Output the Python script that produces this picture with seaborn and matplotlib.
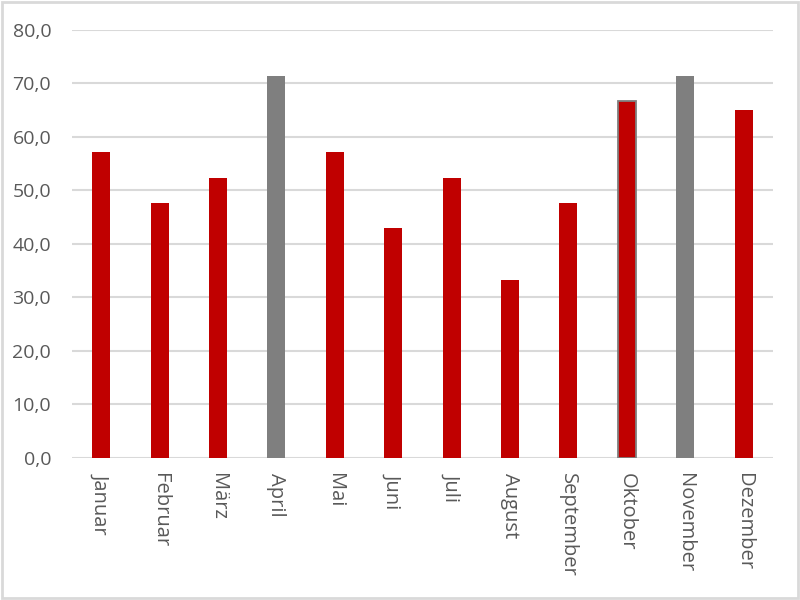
import pandas as pd
import seaborn as sns
import matplotlib.pyplot as plt
from matplotlib.ticker import FuncFormatter, MultipleLocator
from matplotlib.patches import Rectangle

monate = ["Januar", "Februar", "März", "April", "Mai", "Juni", "Juli",
          "August", "September", "Oktober", "November", "Dezember"]
werte = [57.1, 47.6, 52.4, 71.4, 57.1, 42.9, 52.4, 33.3, 47.6, 66.7, 71.4, 65.0]
grau_monate = ["April", "November"]
umrandet = ["Oktober"]

rot = "#c00000"
grau = "#7f7f7f"
text_farbe = "#595959"
linien = "#d9d9d9"

df = pd.DataFrame({"Monat": monate, "Wert": werte})
farben = {m: (grau if m in grau_monate else rot) for m in monate}

sns.set_style("white")
plt.rcParams['font.family'] = ['Open Sans', 'DejaVu Sans']

fig = plt.figure(figsize=(8, 6), dpi=100)
ax = fig.add_axes([0.09, 0.237, 0.876, 0.713])

sns.barplot(data=df, x="Monat", y="Wert", hue="Monat", palette=farben,
            width=0.31, legend=False, ax=ax, saturation=1)

for patch, monat in zip(ax.patches, monate):
    if monat in umrandet:
        patch.set_edgecolor(grau)
        patch.set_linewidth(1.3)
    else:
        patch.set_linewidth(0)

ax.set_ylim(0, 80)
ax.set_xlim(-0.5, len(monate) - 0.5)
ax.yaxis.set_major_locator(MultipleLocator(10))
ax.yaxis.set_major_formatter(FuncFormatter(lambda v, p: f"{v:.1f}".replace(".", ",")))
ax.grid(axis="y", color=linien, linewidth=1.5)
ax.set_axisbelow(True)
for s in ax.spines.values():
    s.set_visible(False)
ax.set_xlabel("")
ax.set_ylabel("")
ax.tick_params(axis="y", length=0, labelsize=14, labelcolor=text_farbe, pad=15)
ax.tick_params(axis="x", length=0, labelsize=14.5, labelcolor=text_farbe, pad=11)
for lab in ax.get_xticklabels():
    lab.set_rotation(-90)
    lab.set_va("top")
    lab.set_ha("center")

fig.patches.append(Rectangle((0.002, 0.003), 0.995, 0.994, transform=fig.transFigure,
                             fill=False, edgecolor=linien, linewidth=2))

fig.savefig("out.png", dpi=100)
